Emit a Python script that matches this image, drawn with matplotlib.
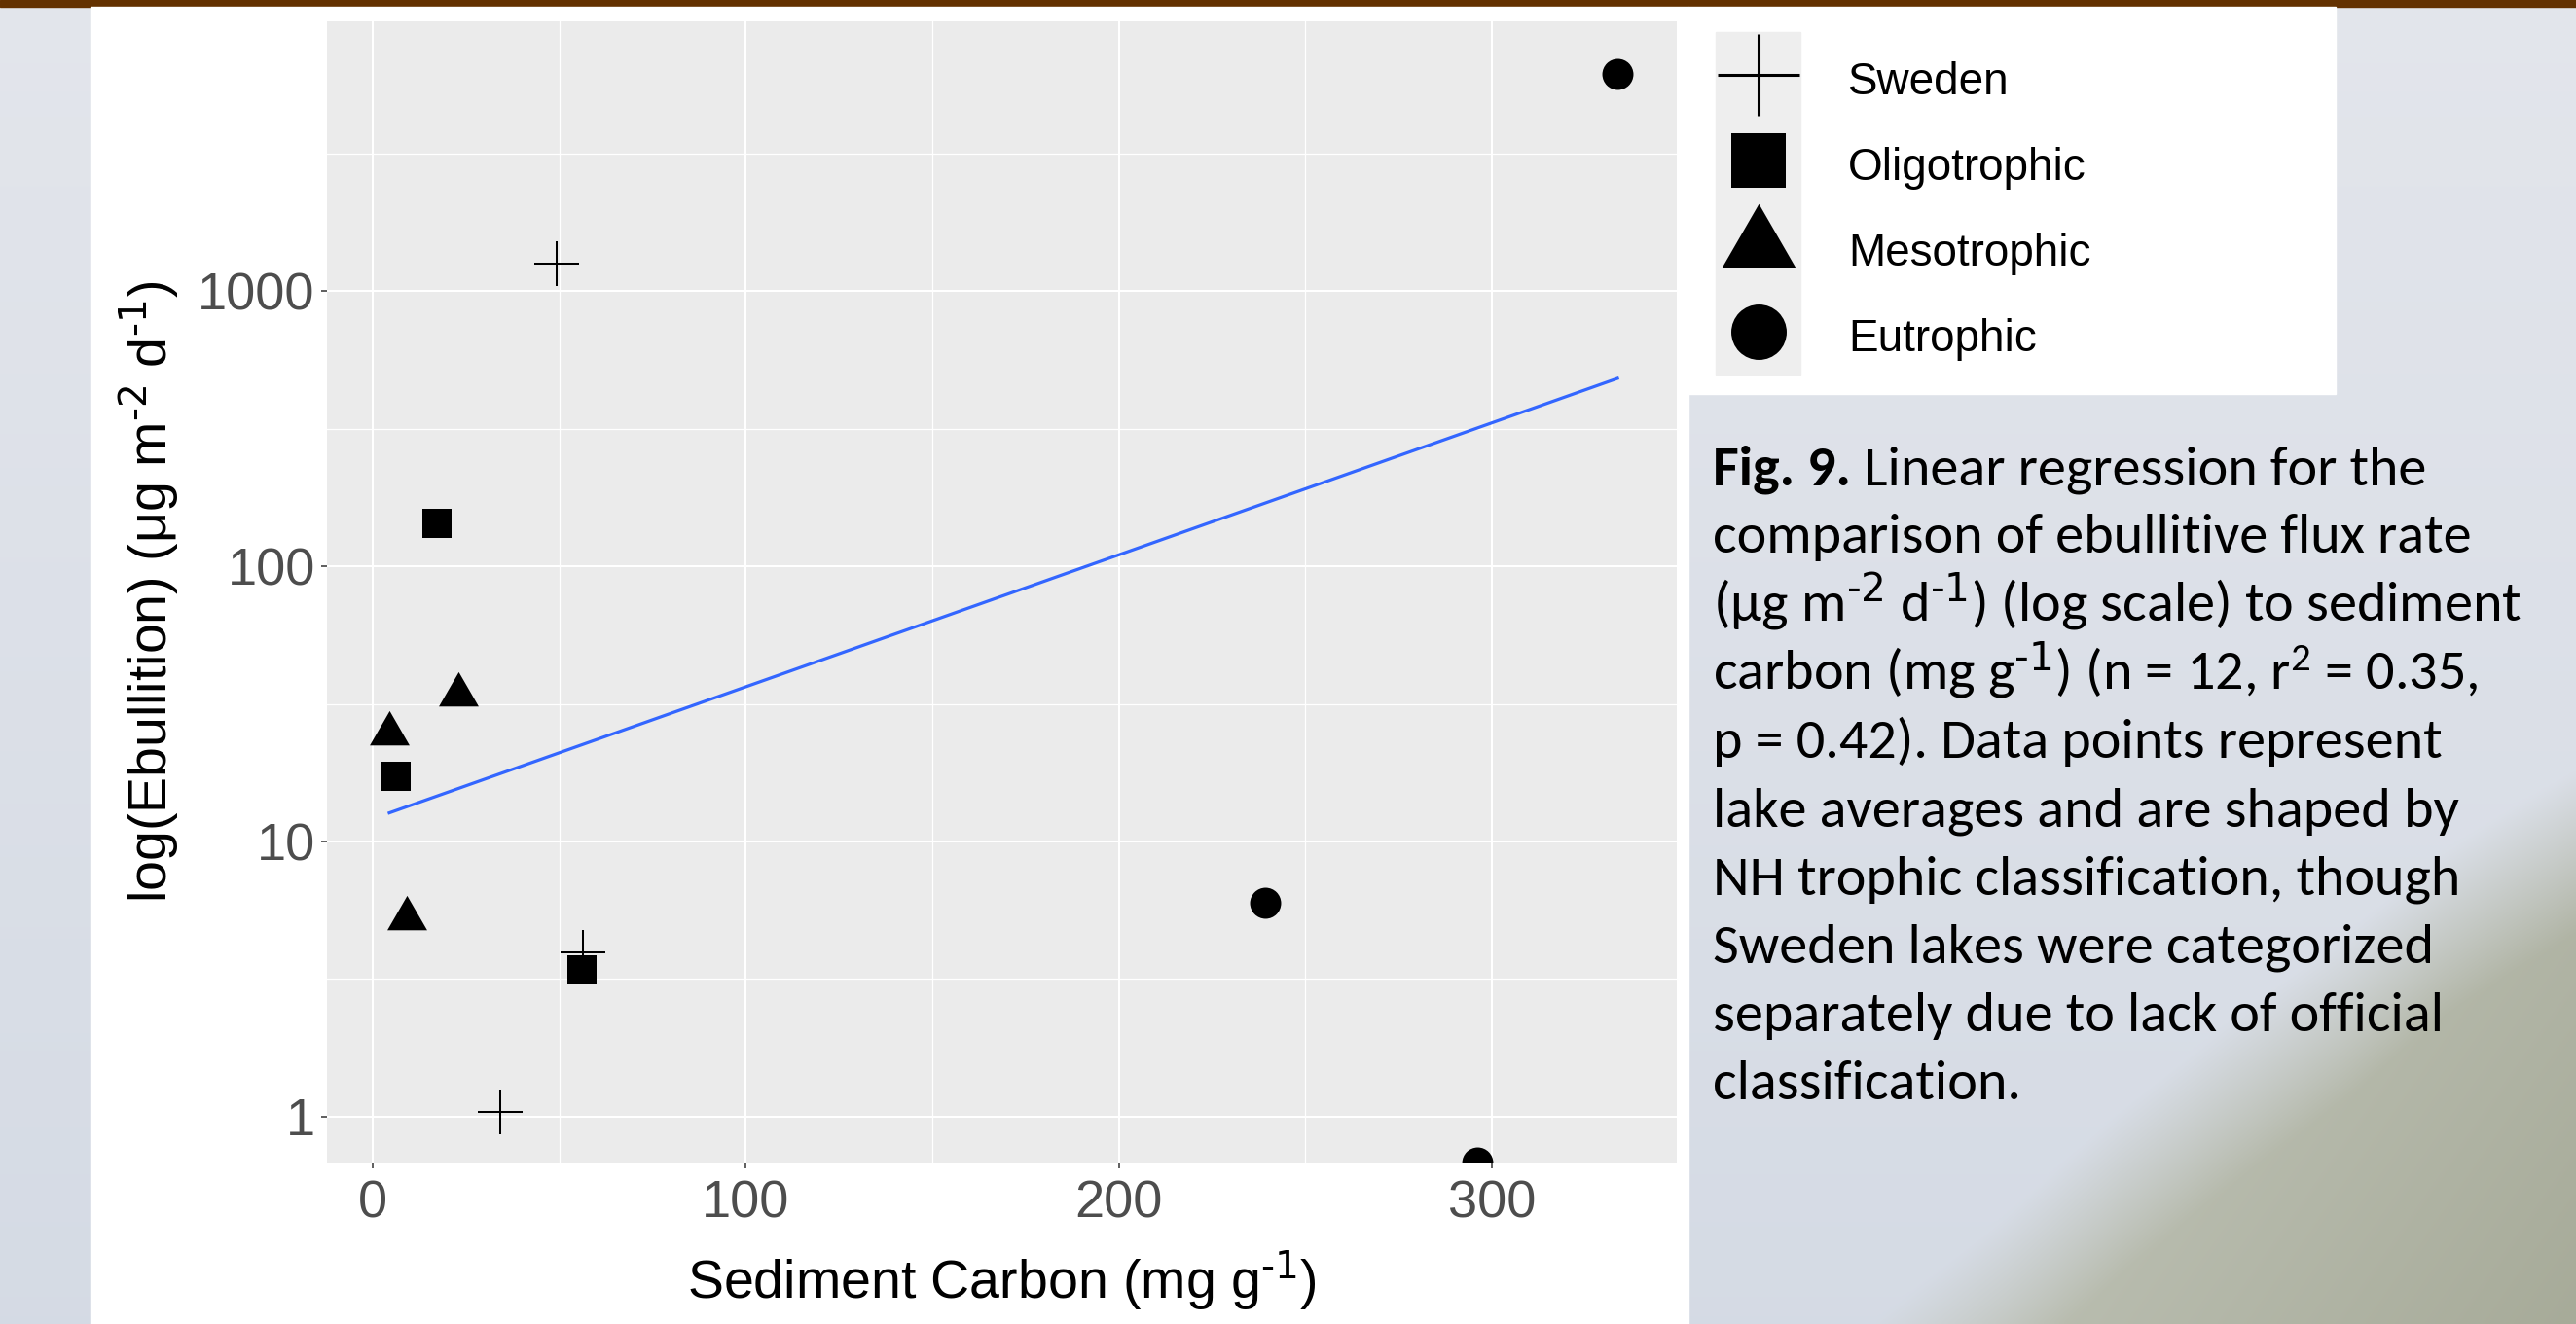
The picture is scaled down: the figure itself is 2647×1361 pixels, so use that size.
"""Poster panel: ebullition vs sediment carbon (log y), ggplot-like look, with legend and caption."""
import numpy as np
import matplotlib
matplotlib.use("Agg")
import matplotlib.pyplot as plt
from matplotlib.patches import Rectangle
from matplotlib.ticker import FixedLocator, NullFormatter

plt.rcParams["font.family"] = ["Liberation Sans", "DejaVu Sans"]
plt.rcParams["mathtext.default"] = "regular"

# ---- Data ----
GROUPS = ["Sweden", "Oligotrophic", "Mesotrophic", "Eutrophic"]
SWEDEN_X = [49.3, 56.3, 34.2]
SWEDEN_Y = [1256, 3.95, 1.04]
OLIGO_X = [17.2, 6.3, 56.1]
OLIGO_Y = [143, 17.3, 3.42]
MESO_X = [4.4, 23.0, 9.2]
MESO_Y = [24.7, 34.2, 5.26]
EUTRO_X = [333.7, 239.2, 296.1]
EUTRO_Y = [6140, 5.98, 0.68]
FIT_X = [4.4, 333.7]
FIT_Y = [12.7, 481]

X_TICKS = [0, 100, 200, 300]
X_MINOR = [50, 150, 250]
Y_TICKS = [1, 10, 100, 1000]
Y_TICK_LABELS = ["1", "10", "100", "1000"]
Y_MINOR = [10 ** 0.5, 10 ** 1.5, 10 ** 2.5, 10 ** 3.5]

X_LABEL = r"Sediment Carbon (mg g$^{\text{-1}}$)"
Y_LABEL = r"log(Ebullition) (μg m$^{\text{-2}}$ d$^{\text{-1}}$)"

CAPTION_BOLD = "Fig. 9."
CAPTION_LINES = [
    " Linear regression for the",
    "comparison of ebullitive flux rate",
    r"(µg m$^{\text{-2}}$ d$^{\text{-1}}$) (log scale) to sediment",
    r"carbon (mg g$^{\text{-1}}$) (n = 12, r$^{2}$ = 0.35,",
    "p = 0.42). Data points represent",
    "lake averages and are shaped by",
    "NH trophic classification, though",
    "Sweden lakes were categorized",
    "separately due to lack of official",
    "classification.",
]

# ---- Layout (pixels of the 2647x1361 canvas, y down) ----
W, H = 2647, 1361
PANEL = (336, 22, 1723, 1195)          # left, top, right, bottom of plot panel
XLIM = (-12.3, 349.6)
YLIM = (0.682, 9530)
CAPTION_FONT = ["Carlito", "Lato", "DejaVu Sans"]
TRIANGLE = [(-1, -0.577), (1, -0.577), (0, 1.155)]
TREE_EDGE_X = [1850, 2060, 2130, 2180, 2290, 2410, 2510, 2580, 2647]
TREE_EDGE_Y = [1420, 1250, 1185, 1140, 1050, 960, 875, 830, 790]

PLOT_STYLE = {
    "Sweden": dict(marker="+", ms=33, mew=1.45, color="black"),
    "Oligotrophic": dict(marker="s", ms=22, mew=0, color="black"),
    "Mesotrophic": dict(marker=TRIANGLE, ms=34, mew=0, color="black"),
    "Eutrophic": dict(marker="o", ms=23, mew=0, color="black"),
}
LEGEND_STYLE = {
    "Sweden": dict(marker="+", ms=60, mew=2.2, color="black"),
    "Oligotrophic": dict(marker="s", ms=41, mew=0, color="black"),
    "Mesotrophic": dict(marker=TRIANGLE, ms=63, mew=0, color="black"),
    "Eutrophic": dict(marker="o", ms=41, mew=0, color="black"),
}


def make_backdrop(step=4):
    """Soft sky-and-treeline photo stand-in (coarse grid, upsampled by imshow)."""
    yy, xx = np.mgrid[0:H:step, 0:W:step].astype(float)
    t = (yy / H)[..., None]
    sky = np.array([0.890, 0.900, 0.924]) * (1 - t) + np.array([0.835, 0.858, 0.896]) * t
    edge = np.interp(xx, TREE_EDGE_X, TREE_EDGE_Y)
    m = np.clip((yy - edge) / 170.0, 0, 1)[..., None]
    depth = np.clip((xx - 2200) / 700 + (yy - 1000) / 1000, 0, 1)[..., None]
    tree = np.array([0.745, 0.760, 0.712]) * (1 - depth) + np.array([0.655, 0.670, 0.600]) * depth
    return sky * (1 - m) + tree * m


fig = plt.figure(figsize=(W / 100, H / 100), dpi=100)

# backdrop, white panels, caption and legend live on a full-figure pixel axes
bg = fig.add_axes([0, 0, 1, 1])
bg.imshow(make_backdrop(), extent=(0, W, H, 0), aspect="auto", interpolation="bilinear", zorder=0)
bg.set_xlim(0, W)
bg.set_ylim(H, 0)
bg.axis("off")
bg.add_patch(Rectangle((0, 0), W, 7, color="#633100", zorder=1))
bg.add_patch(Rectangle((93, 7), 1735 - 93, H - 7, color="white", zorder=1))
bg.add_patch(Rectangle((1735, 7), 2400 - 1735, 405 - 7, color="white", zorder=1))

# ---- Scatter panel ----
l, t, r, b = PANEL
ax = fig.add_axes([l / W, 1 - b / H, (r - l) / W, (b - t) / H])
ax.set_facecolor("#EBEBEB")
ax.set_yscale("log")
ax.set_xlim(*XLIM)
ax.set_ylim(*YLIM)
for s in ax.spines.values():
    s.set_visible(False)

ax.xaxis.set_major_locator(FixedLocator(X_TICKS))
ax.xaxis.set_minor_locator(FixedLocator(X_MINOR))
ax.set_xticklabels([str(v) for v in X_TICKS])
ax.yaxis.set_major_locator(FixedLocator(Y_TICKS))
ax.yaxis.set_minor_locator(FixedLocator(Y_MINOR))
ax.yaxis.set_minor_formatter(NullFormatter())
ax.set_yticklabels(Y_TICK_LABELS)
ax.tick_params(which="major", length=4.3, width=1.1, color="#333333",
               labelcolor="#4D4D4D", labelsize=39)
ax.tick_params(axis="x", which="major", pad=8.6)
ax.tick_params(axis="y", which="major", pad=4.5)
ax.tick_params(which="minor", length=0)
ax.grid(which="major", color="white", lw=1.5)
ax.grid(which="minor", color="white", lw=0.9)
ax.set_axisbelow(True)

series = {
    "Sweden": (SWEDEN_X, SWEDEN_Y),
    "Oligotrophic": (OLIGO_X, OLIGO_Y),
    "Mesotrophic": (MESO_X, MESO_Y),
    "Eutrophic": (EUTRO_X, EUTRO_Y),
}
for name in GROUPS:
    xs, ys = series[name]
    ax.plot(xs, ys, linestyle="none", zorder=3, **PLOT_STYLE[name])
ax.plot(FIT_X, FIT_Y, color="#3366FF", lw=2.3, zorder=4)

# axis titles placed in canvas pixels
bg.text((l + r) / 2, 1335, X_LABEL, fontsize=40, ha="center", va="baseline", zorder=2)
bg.text(172, (t + b) / 2, Y_LABEL, fontsize=40, rotation=90, rotation_mode="anchor",
        ha="center", va="baseline", zorder=2)

# ---- Legend ----
KEY_X0, KEY_W, KEY_Y0, KEY_H = 1763, 87, 33, 88
for i, name in enumerate(GROUPS):
    cy = KEY_Y0 + KEY_H * (i + 0.5)
    bg.add_patch(Rectangle((KEY_X0, KEY_Y0 + KEY_H * i), KEY_W, KEY_H, color="#EEEEEE", zorder=2))
    bg.plot([KEY_X0 + KEY_W / 2], [cy], linestyle="none", zorder=3, **LEGEND_STYLE[name])
    bg.text(1899, cy + 20, name, fontsize=33, ha="left", va="baseline", zorder=3)

# ---- Caption (font size fitted so the widest line matches the poster) ----
renderer = fig.canvas.get_renderer()
probe = bg.text(0, 0, CAPTION_LINES[1], fontsize=40, family=CAPTION_FONT)
cap_fs = 40 * 779 / probe.get_window_extent(renderer).width
probe.remove()

CAP_X, CAP_BASE0, CAP_STEP = 1760, 498, 70.2
bold = bg.text(CAP_X, CAP_BASE0, CAPTION_BOLD, fontsize=cap_fs, family=CAPTION_FONT,
               weight="bold", va="baseline", zorder=3)
bw = bold.get_window_extent(renderer).width
for i, line in enumerate(CAPTION_LINES):
    x = CAP_X + (bw if i == 0 else 0)
    bg.text(x, CAP_BASE0 + CAP_STEP * i, line, fontsize=cap_fs, family=CAPTION_FONT,
            va="baseline", zorder=3)

fig.savefig("out.png", dpi=100)
